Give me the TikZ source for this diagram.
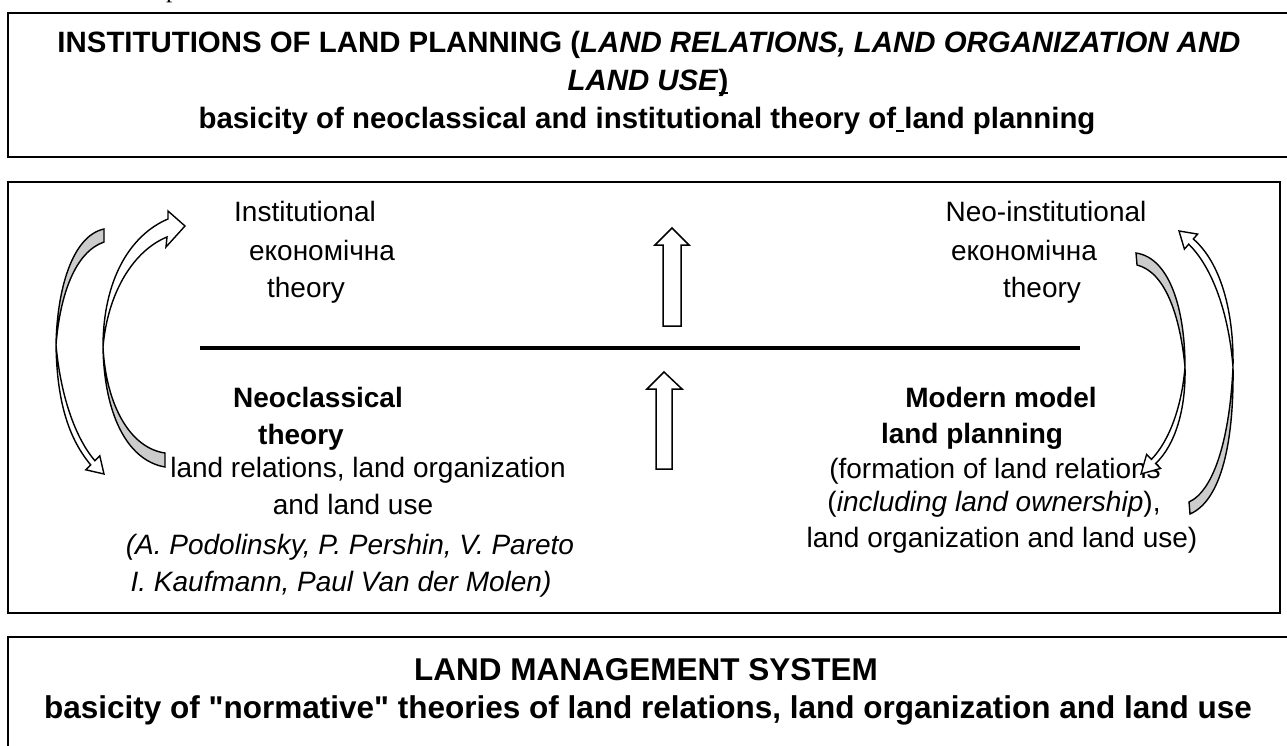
\documentclass[tikz,border=0pt]{standalone}
\usepackage{fontspec}
\setmainfont{Liberation Sans}[Ligatures=TeXOff]
\newfontfamily\serifp{Liberation Serif}
\newcommand\ulx[1]{\setbox0\hbox{#1}\rlap{\rule[-0.11em]{\wd0}{0.07em}}\box0}
\begin{document}
\begin{tikzpicture}[x=1pt,y=-1pt,
  txt/.style={anchor=base,inner sep=0pt,font=\fontsize{28}{34}\selectfont},
  ttl/.style={anchor=base,inner sep=0pt,font=\fontsize{29.4}{36}\selectfont\bfseries},
  bot/.style={anchor=base,inner sep=0pt,font=\fontsize{31.5}{38}\selectfont\bfseries},
  frame/.style={draw=black,line width=2.2pt},
  blockarrow/.style={draw=black,line width=1.5pt,fill=white,line join=miter},
  backface/.style={draw=black,line width=1.4pt,fill=black!20},
  frontface/.style={draw=black,line width=1.4pt,fill=white}]
\useasboundingbox (0,0) rectangle (1287,746);
\clip (0,0) rectangle (1287,746);
\fill[white] (0,0) rectangle (1287,746);
\node[anchor=base west,inner sep=0pt,font=\serifp\fontsize{25}{30}\selectfont] (pfrag) at (166,-2) {p};
% boxes
\draw[frame] (8,13) rectangle (1288,157);
\draw[frame] (8,182) rectangle (1280,613);
\draw[frame] (8,637) rectangle (1288,760);
% box 1
\node[ttl] (t1a) at (649,53) {INSTITUTIONS OF LAND PLANNING (\textit{LAND RELATIONS, LAND ORGANIZATION AND}};
\node[ttl] (t1b) at (648,91) {\textit{LAND USE}\ulx{)}};
\node[ttl] (t1c) at (647,129) {basicity of neoclassical and institutional theory of\ulx{\ }land planning};
% box 3
\node[bot] (t3a) at (646,680) {LAND MANAGEMENT SYSTEM};
\node[bot] (t3b) at (648,718) {basicity of "normative" theories of land relations, land organization and land use};
% box 2 upper
\node[txt] (iu1) at (305,222) {Institutional};
\node[txt] (iu2) at (322,260) {економічна};
\node[txt] (iu3) at (306,297) {theory};
\node[txt] (nu1) at (1046,222) {Neo-institutional};
\node[txt] (nu2) at (1024,260) {економічна};
\node[txt] (nu3) at (1042,297) {theory};
% box 2 lower left
\node[txt] (nl1) at (318,407) {\textbf{Neoclassical}};
\node[txt] (nl2) at (301,444) {\textbf{theory}};
\node[txt] (nl3) at (368,477) {land relations, land organization};
\node[txt] (nl4) at (353,514) {and land use};
\node[txt] (nl5) at (350,554) {\textit{(A. Podolinsky, P. Pershin, V. Pareto}};
\node[txt] (nl6) at (341,591) {\textit{I. Kaufmann, Paul Van der Molen)}};
% box 2 lower right
\node[txt] (mr1) at (1001,407) {\textbf{Modern model}};
\node[txt] (mr2) at (972,443) {\textbf{land planning}};
\node[txt] (mr3) at (995,478) {(formation of land relations};
\node[txt] (mr4) at (994,511) {(\textit{including land ownership}),};
\node[txt] (mr5) at (1002,547) {land organization and land use)};
% divider
\draw[line width=3.5pt] (200,348) -- (1080,348);
% block arrows
\draw[blockarrow] (672,228) -- (689,245) -- (681,245) -- (681,326) -- (663,326) -- (663,245) -- (655,245) -- cycle;
\draw[blockarrow] (664,372) -- (682,389) -- (672,389) -- (672,469) -- (656,469) -- (656,389) -- (647,389) -- cycle;
% curved arrow A (left outer)
\draw[backface] (104,229) .. controls (72,236) and (57,290) .. (56,345) .. controls (60,295) and (75,252) .. (104,242) -- cycle;
\draw[frontface] (56,345) .. controls (57,405) and (70,440) .. (90.7,464.9) -- (85.8,469.8) -- (104,474) -- (99.8,455.8) -- (94.9,460.7) .. controls (77,440) and (61,400) .. (56,345) -- cycle;
% curved arrow B (left inner)
\draw[backface] (165,467) .. controls (125,460) and (104,410) .. (103,347) .. controls (106,405) and (130,448) .. (165,453) -- cycle;
\draw[frontface] (103,347) .. controls (103,280) and (130,235) .. (168,219) -- (168,211) -- (185,226) -- (166,247) -- (167,237) .. controls (135,250) and (108,290) .. (103,347) -- cycle;
% curved arrow C (right inner)
\draw[backface] (1136,253) .. controls (1170,258) and (1185,310) .. (1185,367) .. controls (1180,315) and (1165,272) .. (1137,265) -- cycle;
\draw[frontface] (1185,367) .. controls (1186,410) and (1175,445) .. (1155.7,463.5) -- (1160.6,468.4) -- (1141,474) -- (1146.6,454.4) -- (1151.5,459.3) .. controls (1170,440) and (1182,405) .. (1185,367) -- cycle;
% curved arrow D (right outer)
\draw[backface] (1190,514) .. controls (1222,500) and (1234,440) .. (1233,367) .. controls (1230,435) and (1215,490) .. (1189,502) -- cycle;
\draw[frontface] (1233,367) .. controls (1234,310) and (1220,262) .. (1193.3,239) -- (1197.6,234.1) -- (1179,231) -- (1184.4,249.1) -- (1188.7,244.2) .. controls (1213,268) and (1229,315) .. (1233,367) -- cycle;
\end{tikzpicture}
\end{document}
